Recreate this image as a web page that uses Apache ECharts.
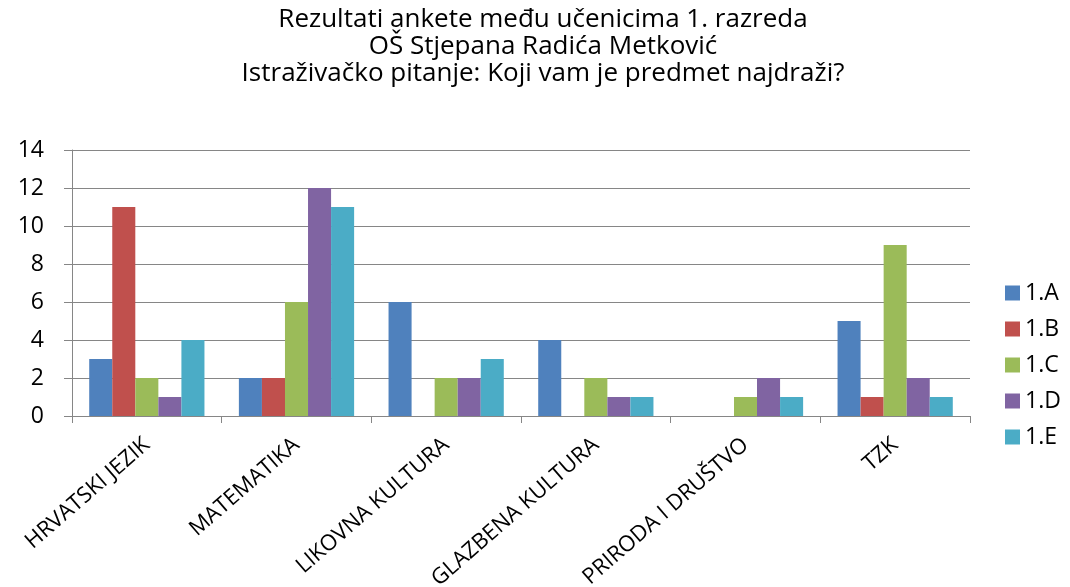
<!DOCTYPE html>
<html>
<head>
<meta charset="utf-8">
<script src="https://cdn.jsdelivr.net/npm/echarts@6/dist/echarts.min.js"></script>
<style>
  html, body { margin: 0; padding: 0; background: #fff; }
  #chart { width: 1070px; height: 587px; }
</style>
</head>
<body>
<div id="chart"></div>
<script>
const categories = ['HRVATSKI JEZIK', 'MATEMATIKA', 'LIKOVNA KULTURA', 'GLAZBENA KULTURA', 'PRIRODA I DRUŠTVO', 'TZK'];
const classA = [3, 2, 6, 4, 0, 5];
const classB = [11, 2, 0, 0, 0, 1];
const classC = [2, 6, 2, 2, 1, 9];
const classD = [1, 12, 2, 1, 2, 2];
const classE = [4, 11, 3, 1, 1, 1];
const seriesNames = ['1.A', '1.B', '1.C', '1.D', '1.E'];
const colors = ['#4F81BD', '#C0504D', '#9BBB59', '#8064A2', '#4BACC6'];

const chart = echarts.init(document.getElementById('chart'));
const font = '"Open Sans", sans-serif';

const option = {
  color: colors,
  animation: false,
  title: {
    text: 'Rezultati ankete među učenicima 1. razreda\nOŠ Stjepana Radića Metković\nIstraživačko pitanje: Koji vam je predmet najdraži?',
    left: 538,
    top: 1,
    textAlign: 'center',
    textStyle: {
      fontFamily: font,
      fontSize: 26,
      fontWeight: 'normal',
      color: '#000',
      lineHeight: 27,
      align: 'center'
    }
  },
  legend: {
    orient: 'vertical',
    left: 1000,
    top: 276,
    itemWidth: 15,
    itemHeight: 15,
    itemGap: 12,
    icon: 'rect',
    textStyle: { fontFamily: font, fontSize: 23, color: '#000', lineHeight: 24 },
    data: seriesNames
  },
  grid: {
    left: 72,
    right: 100,
    top: 150,
    bottom: 171,
    containLabel: false,
    outerBoundsMode: 'none'
  },
  xAxis: {
    type: 'category',
    data: categories,
    axisLine: { lineStyle: { color: '#868686', width: 1 } },
    axisTick: { show: true, length: 7, lineStyle: { color: '#868686' } },
    axisLabel: {
      rotate: 41,
      interval: 0,
      margin: 26,
      fontFamily: font,
      fontSize: 22,
      color: '#000'
    }
  },
  yAxis: {
    type: 'value',
    min: 0,
    max: 14,
    interval: 2,
    axisLine: { show: true, lineStyle: { color: '#868686' } },
    axisTick: { show: true, inside: false, length: 8, lineStyle: { color: '#868686' } },
    splitLine: { lineStyle: { color: '#868686', width: 1 } },
    axisLabel: {
      margin: 28,
      fontFamily: font,
      fontSize: 23,
      color: '#000'
    }
  },
  series: [classA, classB, classC, classD, classE].map((vals, i) => ({
    name: seriesNames[i],
    type: 'bar',
    data: vals,
    barGap: 0,
    barCategoryGap: '23%'
  }))
};

chart.setOption(option);
</script>
</body>
</html>
